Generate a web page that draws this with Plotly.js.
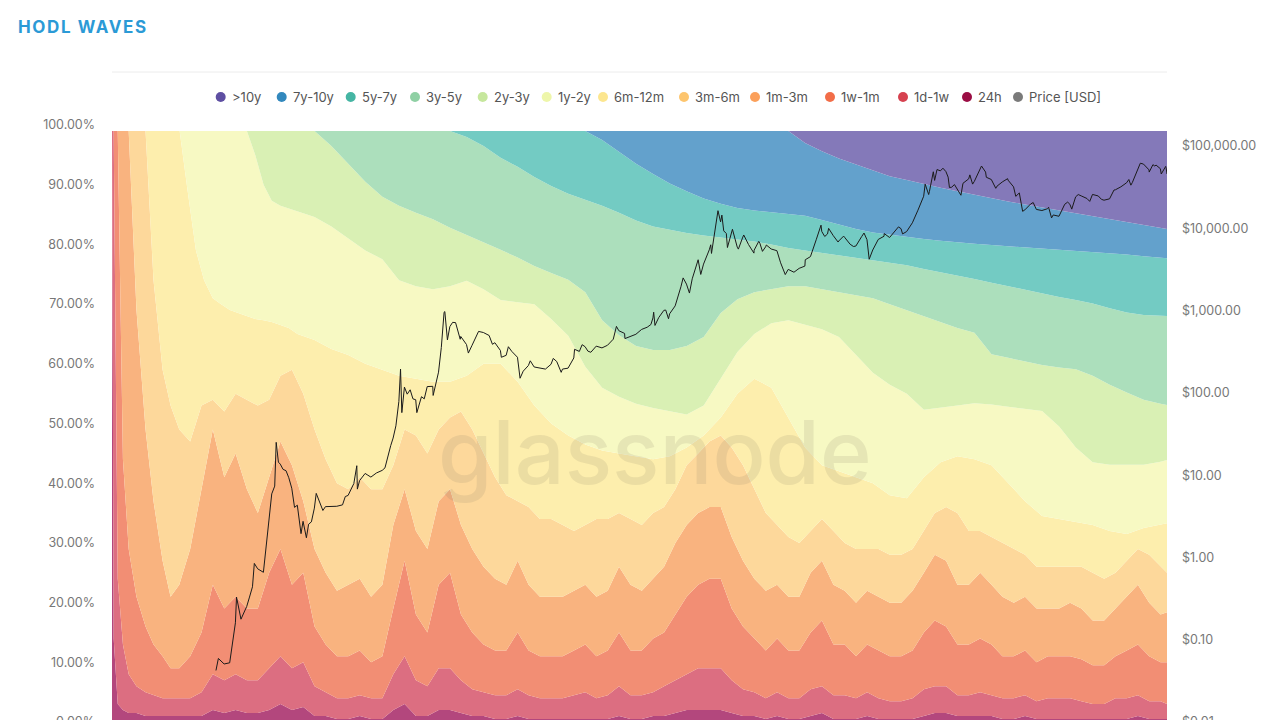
<!DOCTYPE html>
<html>
<head>
<meta charset="utf-8">
<script src="https://cdn.plot.ly/plotly-3.0.1.min.js"></script>
<style>
  html, body { margin: 0; padding: 0; overflow: hidden; background: #ffffff; }
  #chart { width: 1280px; height: 800px; }
  .gtitle { letter-spacing: 1.6px; }
</style>
</head>
<body>
<div id="chart"></div>
<script>
// ---- Sample dates for the young cohorts (denser: they move fast) ----
const datesYoung = [
 "2009-01-03","2009-01-12","2009-02-03","2009-03-03","2009-04-03","2009-05-15","2009-07-03","2009-08-15","2009-10-03","2009-11-15",
 "2010-01-01","2010-03-01","2010-05-01","2010-07-01","2010-09-01","2010-11-01",
 "2011-01-01","2011-03-01","2011-05-01","2011-07-01","2011-09-01","2011-11-01",
 "2012-01-01","2012-03-01","2012-05-01","2012-07-01","2012-09-01","2012-11-01",
 "2013-01-01","2013-03-01","2013-05-01","2013-07-01","2013-09-01","2013-11-01",
 "2014-01-01","2014-03-01","2014-05-01","2014-07-01","2014-09-01","2014-11-01",
 "2015-01-01","2015-03-01","2015-05-01","2015-07-01","2015-09-01","2015-11-01",
 "2016-01-01","2016-03-01","2016-05-01","2016-07-01","2016-09-01","2016-11-01",
 "2017-01-01","2017-03-01","2017-05-01","2017-07-01","2017-09-01","2017-11-01",
 "2018-01-01","2018-03-01","2018-05-01","2018-07-01","2018-09-01","2018-11-01",
 "2019-01-01","2019-03-01","2019-05-01","2019-07-01","2019-09-01","2019-11-01",
 "2020-01-01","2020-03-01","2020-05-01","2020-07-01","2020-09-01","2020-11-01",
 "2021-01-01","2021-03-01","2021-05-01","2021-07-01","2021-09-01","2021-11-01",
 "2022-01-01","2022-03-01","2022-05-01","2022-07-01","2022-09-01","2022-11-01",
 "2023-01-01","2023-03-01","2023-05-01","2023-07-01","2023-09-01","2023-11-01",
 "2024-01-01","2024-03-01","2024-05-01","2024-07-01","2024-08-05"
];
// Upper edge of each young band, cumulative % of supply
const edge_24h = [100,15,4,3,2.5,2.5,2,2,2,2,
 2,2,2,3,2.5,3, 2.5,2.5,3,4,3,3.5, 2,2,1.5,1.5,2,1.5, 1.5,3,4,2,2,3, 3,2.5,2,2,1.5,1.5,
 2,1.5,1.5,1.5,1.5,1.5, 1.5,1.5,1.5,2,1.5,1.5, 2,2,2.5,3,3,3, 3,2.5,2,2,1.5,2, 1.5,1.5,2,2.5,1.5,1.5,
 1.5,2,1.5,1.5,1.5,1.5, 2,2.5,2.5,2,2,2, 2,1.5,1.5,2,1.5,1.5, 1.5,1.5,1.5,1.5,1.5,1.5, 1.5,2,1.5,1.5,1.5];
const edge_1d_1w = [100,100,25,14,9,7,6,5.5,5,5,
 5,5,6,9,8,9, 8,8,10,12,10,11, 7,6,5,5,5.5,5, 5,9,12,8,7,10, 10,8,6.5,6,5.5,5.5,
 6.5,5.5,5,5,5,5.5, 6,5,5.5,7,5.5,5.5, 6,7,8,9,10,10, 10,8,6.5,6,5,6, 5,5,6.5,7,5.5,5.5,
 5,6,5,4.5,4.5,5, 6.5,7,7,5.5,5.5,6, 5.5,5,5,5.5,4.5,5, 5,5,4.5,4,4,5, 5,5.5,4.5,4.5,4];
const edge_1w_1m = [100,100,100,45,30,22,17,14,12,10,
 10,12,16,24,20,22, 20,20,26,30,24,26, 17,14,12,12,13,11, 12,20,28,19,16,24, 26,19,16,14,13,13,
 16,13,12,12,12,13, 14,12,13,16,13,13, 15,16,19,22,24,25, 25,20,17,15,13,15, 13,13,16,18,14,14,
 12,14,13,12,12,13, 16,18,17,14,14,15, 14,12,12,13,11,12, 12,12,11.5,10.5,10.5,12, 13,14,12,11,11];
const edge_1m_3m = [100,100,100,100,100,70,50,38,28,22,
 24,30,40,50,42,46, 40,36,42,48,44,38, 30,26,23,24,25,22, 24,34,40,33,30,38, 40,34,30,27,25,24,
 28,24,22,22,22,23, 24,22,23,27,24,23, 25,27,31,34,36,37, 37,32,28,25,23,24, 22,22,26,28,24,23,
 21,23,22,21,21,23, 26,29,28,24,24,26, 24,22,21,22,20,20, 20,21,20,18,18,20, 22,24,21,19,19.4];
const edge_3m_6m = [100,100,100,100,100,100,100,75,60,54,
 50,48,54,55,53,56, 55,54,55,59,60,56, 50,45,41,40,42,40, 40,44,50,49,46,50, 52,53,50,46,42,39,
 38,37,35,35,34,33, 34,35,35,36,35,34, 36,37,40,44,46,48, 49,47,44,40,36,34, 32,31,33,35,33,31,
 30,30,30,29,29,30, 33,36,37,36,33,33, 32,31,30,29,27,27, 27,27,27,26,25,26, 28,30,29,27,26];

// ---- Sample dates for the older cohorts ----
const dates = [
 "2009-01-03","2009-01-12","2009-02-03","2009-03-03","2009-04-03","2009-05-15","2009-07-03","2009-08-15",
 "2009-10-03","2009-11-15","2010-01-03","2010-02-15","2010-04-01","2010-05-15","2010-07-01","2010-08-15",
 "2010-10-01","2010-11-15","2011-01-01","2011-02-15","2011-04-01","2011-05-15","2011-07-01","2011-08-15",
 "2011-10-01","2011-11-15","2012-01-01","2012-04-01","2012-07-01","2012-10-01","2013-01-01","2013-04-01",
 "2013-07-01","2013-10-01","2014-01-01","2014-04-01","2014-07-01","2014-10-01","2015-01-01","2015-04-01",
 "2015-07-01","2015-10-01","2016-01-01","2016-04-01","2016-07-01","2016-10-01","2017-01-01","2017-04-01",
 "2017-07-01","2017-10-01","2018-01-01","2018-04-01","2018-07-01","2018-10-01","2019-01-01","2019-04-01",
 "2019-07-01","2019-10-01","2020-01-01","2020-04-01","2020-07-01","2020-10-01","2021-01-01","2021-04-01",
 "2021-07-01","2021-10-01","2022-01-01","2022-04-01","2022-07-01","2022-10-01","2023-01-01","2023-04-01",
 "2023-07-01","2023-10-01","2024-01-01","2024-04-01","2024-07-01","2024-08-05"
];
const edge_6m_12m = [100,100,100,100,100,100,100,100,100,100,100,90,80,75,72,71,70,69.5,69,68.5,68.3,68,67.5,67,66,65.5,65,63.5,62.5,61,60,59,
 58.5,58,58,59,61,61,58,54,51,49,47.5,46.5,46,45.5,45,45.5,47,49,52,56,58.5,57,52,47,44,43,42,41,39,38.5,42,44.5,45.5,45,44,41,38,35.5,35,34.5,34,33,32.5,33.5,34,34.3];
const edge_1y_2y = [100,100,100,100,100,100,100,100,100,100,100,100,100,100,100,100,100,100,100,96,91,88.3,87.5,87,86.5,86,85.6,84,82,80,78.5,75,
 74,73.5,74,74.9,73.5,71.7,71.3,71,68.5,65.7,60.5,57,55.5,54.3,53.6,53,52.5,54,58.5,63,66,67.8,68.3,67.6,66.8,65.5,62.5,59.5,57.5,56,53.3,53.6,54,54.4,54.2,53.8,53.4,53.1,50.5,47,44.5,44.1,44.1,44.1,44.6,44.9];
const edge_2y_3y = [100,100,100,100,100,100,100,100,100,100,100,100,100,100,100,100,100,100,100,100,100,100,100,100,100,100,100,97.5,94.5,91.5,89,87.5,
 86.3,85.2,83.8,82.6,81.4,80.1,78.8,77.4,76.2,75.1,73,68.3,65.8,64,63.3,63.3,64,65.5,69.5,71.8,73,73.5,74,74,73.5,73,72.5,72,71,70,69,68,67,66.2,62.6,62,61.4,60.8,60.4,60.1,59,57.5,56.2,55,54.3,54.1];
const edge_3y_5y = [100,100,100,100,100,100,100,100,100,100,100,100,100,100,100,100,100,100,100,100,100,100,100,100,100,100,100,100,100,100,100,100,
 100,100,100,99,97.5,95.5,94,92.3,90.8,89.5,88.5,87.5,86.3,85,84,83.4,82.9,82.5,82.2,81.9,81.5,81,80.4,80,79.6,79.2,78.8,78.4,78,77.5,76.9,76.3,75.7,75.2,74.6,74,73.4,72.8,72.2,71.7,71.1,70.3,69.6,69.2,69,69];
const edge_5y_7y = [100,100,100,100,100,100,100,100,100,100,100,100,100,100,100,100,100,100,100,100,100,100,100,100,100,100,100,100,100,100,100,100,
 100,100,100,100,100,100,100,100,100,100,100,98.5,96.5,94.5,92.8,91.2,89.9,88.7,87.8,87.1,86.7,86.4,86.2,85.8,85.1,84.3,83.6,83,82.6,82.2,81.9,81.6,81.3,81.1,80.9,80.7,80.5,80.3,80.2,80,79.8,79.6,79.3,79,78.8,78.7];
const edge_7y_10y = [100,100,100,100,100,100,100,100,100,100,100,100,100,100,100,100,100,100,100,100,100,100,100,100,100,100,100,100,100,100,100,100,
 100,100,100,100,100,100,100,100,100,100,100,100,100,100,100,100,100,100,100,100,100,100,100,98,96.6,95.4,94.4,93.3,92.4,91.8,91.1,90.5,89.9,89.3,88.8,88.2,87.7,87.2,86.7,86.2,85.7,85.2,84.7,84.2,83.8,83.6];
const edge_gt10y = dates.map(() => 100);

// ---- Price (USD) ----
const priceDates = [
 "2010-07-18","2010-07-31","2010-08-31","2010-09-30","2010-10-31","2010-11-06","2010-11-30","2010-12-31",
 "2011-01-15","2011-01-31","2011-02-10","2011-02-28","2011-03-31","2011-04-30","2011-05-15","2011-05-31","2011-06-08","2011-06-20",
 "2011-06-30","2011-07-15","2011-07-31","2011-08-15","2011-08-31","2011-09-15","2011-09-30","2011-10-20","2011-10-31","2011-11-18",
 "2011-11-30","2011-12-15","2011-12-31","2012-01-10","2012-01-31","2012-02-15","2012-02-29","2012-03-31","2012-04-30","2012-05-31",
 "2012-06-15","2012-06-30","2012-07-31","2012-08-16","2012-08-19","2012-08-31","2012-09-30","2012-10-15","2012-10-31","2012-11-30",
 "2012-12-31","2013-01-15","2013-01-31","2013-02-15","2013-02-28","2013-03-15","2013-03-31","2013-04-09","2013-04-16","2013-04-30",
 "2013-05-15","2013-05-31","2013-06-15","2013-06-30","2013-07-06","2013-07-31","2013-08-15","2013-08-31","2013-09-30","2013-10-02",
 "2013-10-31","2013-11-15","2013-11-30","2013-12-04","2013-12-18","2013-12-31","2014-01-15","2014-01-31","2014-02-25","2014-02-28",
 "2014-03-31","2014-04-10","2014-04-30","2014-05-31","2014-06-04","2014-06-30","2014-07-15","2014-07-31","2014-08-18","2014-08-31",
 "2014-09-30","2014-10-05","2014-10-31","2014-11-12","2014-11-30","2014-12-31","2015-01-14","2015-01-31","2015-02-28","2015-03-10",
 "2015-03-31","2015-04-30","2015-05-31","2015-06-30","2015-07-12","2015-07-31","2015-08-24","2015-08-31","2015-09-30","2015-10-31",
 "2015-11-04","2015-11-30","2015-12-15","2015-12-31","2016-01-15","2016-01-31","2016-02-29","2016-03-31","2016-04-30","2016-05-31",
 "2016-06-17","2016-06-30","2016-07-31","2016-08-02","2016-08-31","2016-09-30","2016-10-31","2016-11-30","2016-12-20","2016-12-31",
 "2017-01-04","2017-01-11","2017-01-31","2017-02-28","2017-03-10","2017-03-25","2017-03-31","2017-04-30","2017-05-31","2017-06-12",
 "2017-06-30","2017-07-16","2017-07-31","2017-08-31","2017-09-01","2017-09-15","2017-09-30","2017-10-31","2017-11-08","2017-11-12",
 "2017-11-30","2017-12-17","2017-12-31","2018-01-07","2018-01-17","2018-01-31","2018-02-06","2018-02-28","2018-03-05","2018-03-31",
 "2018-04-06","2018-04-30","2018-05-05","2018-05-31","2018-06-29","2018-06-30","2018-07-25","2018-07-31","2018-08-14","2018-08-31",
 "2018-09-04","2018-09-30","2018-10-31","2018-11-20","2018-11-30","2018-12-15","2018-12-31","2019-01-31","2019-02-28","2019-03-31",
 "2019-04-02","2019-04-30","2019-05-31","2019-06-26","2019-06-30","2019-07-16","2019-07-31","2019-08-06","2019-08-31","2019-09-26",
 "2019-09-30","2019-10-26","2019-10-31","2019-11-30","2019-12-18","2019-12-31","2020-01-31","2020-02-13","2020-02-29","2020-03-12",
 "2020-03-31","2020-04-30","2020-05-31","2020-06-01","2020-06-30","2020-07-31","2020-08-17","2020-08-31","2020-09-08","2020-09-30",
 "2020-10-31","2020-11-30","2020-12-31","2021-01-08","2021-01-27","2021-01-31","2021-02-21","2021-02-28","2021-03-13","2021-03-31",
 "2021-04-14","2021-04-30","2021-05-12","2021-05-19","2021-05-31","2021-06-15","2021-06-30","2021-07-20","2021-07-31","2021-08-31",
 "2021-09-06","2021-09-21","2021-09-30","2021-10-31","2021-11-08","2021-11-30","2021-12-04","2021-12-31","2022-01-24","2022-01-31",
 "2022-02-28","2022-03-29","2022-03-31","2022-04-30","2022-05-12","2022-05-31","2022-06-18","2022-06-30","2022-07-31","2022-08-14",
 "2022-08-31","2022-09-30","2022-10-31","2022-11-05","2022-11-21","2022-11-30","2022-12-31","2023-01-31","2023-02-16","2023-02-28",
 "2023-03-10","2023-03-31","2023-04-14","2023-04-30","2023-05-31","2023-06-15","2023-06-30","2023-07-31","2023-08-17","2023-08-31",
 "2023-09-30","2023-10-24","2023-10-31","2023-11-30","2023-12-31","2024-01-12","2024-01-23","2024-01-31","2024-02-29","2024-03-14",
 "2024-03-31","2024-04-19","2024-04-30","2024-05-01","2024-05-21","2024-05-31","2024-06-07","2024-06-30","2024-07-05","2024-07-29",
 "2024-07-31","2024-08-05"
];
const priceUSD = [
 0.05,0.07,0.06,0.062,0.19,0.39,0.21,0.30,
 0.39,0.52,1.0,0.86,0.78,3.5,7.0,8.7,29.6,17,
 16.1,13.9,13.4,11,8.2,4.8,5.1,2.3,3.25,2.05,
 3.0,3.2,4.7,7.1,5.5,4.4,4.9,4.9,4.95,5.15,
 6.5,6.7,9.35,15.4,8,10.15,12.4,11.8,11.2,12.57,
 13.51,14.5,20.41,27,33.38,47,93.03,230,68,139,
 114,128.8,100,97.5,68,106.2,100,141,141.9,110,
 211,420,1129,1150,520,754,850,844,530,573,
 457,360,448,628,660,640,620,589,460,481,
 387,320,338,430,378,320,178,217,254,290,
 244,236,230,263,310,284,210,230,236,314,
 400,377,455,430,380,368,437,416,448,531,
 760,673,624,540,575,609,698,742,800,963,
 1130,780,970,1190,1200,940,1080,1348,2300,2950,
 2480,1930,2875,4703,4900,3250,4338,6468,7450,5850,
 10233,19345,14156,17100,11000,10221,6900,10397,11500,6973,
 6600,9240,9800,7494,5900,6404,8200,7780,6200,7037,
 7400,6625,6317,4500,4017,3236,3742,3457,3854,4105,
 4900,5350,8574,12900,10817,9400,10085,11800,9630,8050,
 8293,9500,9199,7569,7100,7193,9350,10350,8599,4970,
 6438,8658,9461,10200,9137,11323,12300,11680,10100,10784,
 13781,19625,29001,40700,30400,33114,57500,45137,61200,58918,
 63500,57750,49500,37000,37332,40200,35040,29800,41626,47166,
 52700,40700,43790,61318,67500,57005,49300,46306,36200,38483,
 43193,47400,45538,37714,28900,31792,19000,19784,23336,24300,
 20050,19431,20495,21300,15800,17168,16547,23139,24600,23147,
 20200,28478,30400,29268,27219,25100,30477,29230,26600,25940,
 26962,34500,34667,37712,42265,46300,39500,42582,61198,73000,
 71333,63900,60636,57000,70100,67491,69300,62678,54000,66800,
 64619,54000
];

// ---- Bands (bottom to top) ----
const bandNames = ["24h","1d-1w","1w-1m","1m-3m","3m-6m","6m-12m","1y-2y","2y-3y","3y-5y","5y-7y","7y-10y",">10y"];
const bandEdges = [edge_24h,edge_1d_1w,edge_1w_1m,edge_1m_3m,edge_3m_6m,edge_6m_12m,edge_1y_2y,edge_2y_3y,edge_3y_5y,edge_5y_7y,edge_7y_10y,edge_gt10y];
const bandDates = [datesYoung,datesYoung,datesYoung,datesYoung,datesYoung,dates,dates,dates,dates,dates,dates,dates];
const bandFill = ["#b3477d","#dc6e81","#f28e74","#f9b37f","#fdd89b","#fdeead","#f7f9c3","#d9f0b4","#acdfbc","#73cbc3","#63a1cc","#8479b9"];

// ---- Axis tick labels ----
const pctTickVals = [0,10,20,30,40,50,60,70,80,90,100];
const pctTickText = ["0.00%","10.00%","20.00%","30.00%","40.00%","50.00%","60.00%","70.00%","80.00%","90.00%","100.00%"];
const usdTickVals = [0.01,0.1,1,10,100,1000,10000,100000];
const usdTickText = ["$0.01","$0.10","$1.00","$10.00","$100.00","$1,000.00","$10,000.00","$100,000.00"];

// ---- Legend (order and marker colours) ----
const legendNames  = [">10y","7y-10y","5y-7y","3y-5y","2y-3y","1y-2y","6m-12m","3m-6m","1m-3m","1w-1m","1d-1w","24h","Price [USD]"];
const legendColors = ["#5e4fa2","#3288bd","#45b5a3","#8fd0a4","#c6e79d","#eef6aa","#fce68f","#fdc56e","#fba05b","#f26d48","#d6414f","#9b0d44","#7a7a7a"];
const legendDotPx  = [220.7,281.7,350.7,415,482.7,546.7,603,684,755,830,903,967,1018];

const traces = bandEdges.map((edge, i) => ({
  type: "scatter", mode: "lines", x: bandDates[i], y: edge, name: bandNames[i],
  line: { width: 0 }, fill: i === 0 ? "tozeroy" : "tonexty", fillcolor: bandFill[i],
  showlegend: false, hoverinfo: "skip", yaxis: "y"
}));
traces.push({
  type: "scatter", mode: "lines", x: priceDates, y: priceUSD, name: "Price [USD]",
  line: { color: "#1b1b1b", width: 1 }, showlegend: false, yaxis: "y2", hoverinfo: "skip"
});

const W = 1280, H = 800, ML = 112, MR = 113, MT = 131, MB = 72;
const PW = W - ML - MR, PH = H - MT - MB;
const px2paperX = p => (p - ML) / PW;
const py2paperY = p => (H - MB - p) / PH;

const shapes = [{
  type: "line", xref: "paper", yref: "paper", x0: 0, x1: 1,
  y0: py2paperY(72), y1: py2paperY(72), line: { color: "#ececec", width: 1 }
}];
const annotations = [];
legendNames.forEach((n, i) => {
  const cx = px2paperX(legendDotPx[i]), cy = py2paperY(97);
  shapes.push({
    type: "circle", xref: "paper", yref: "paper", xsizemode: "pixel", ysizemode: "pixel",
    xanchor: cx, yanchor: cy, x0: -5, x1: 5, y0: -5, y1: 5,
    fillcolor: legendColors[i], line: { width: 0 }
  });
  annotations.push({
    xref: "paper", yref: "paper", x: px2paperX(legendDotPx[i] + 9), y: cy,
    xanchor: "left", yanchor: "middle", showarrow: false, text: n,
    font: { family: "Inter, sans-serif", size: 13, color: "#555555" }
  });
});
annotations.push({
  xref: "paper", yref: "paper", x: px2paperX(655), y: py2paperY(452),
  xanchor: "center", yanchor: "middle", showarrow: false, text: "glassnode",
  font: { family: "Inter, sans-serif", size: 88, color: "rgba(130,120,100,0.14)", weight: 500 }
});

const layout = {
  width: W, height: H,
  margin: { l: ML, r: MR, t: MT, b: MB, pad: 0 },
  paper_bgcolor: "#ffffff", plot_bgcolor: "#ffffff",
  font: { family: "Inter, sans-serif", color: "#777777" },
  title: {
    text: "<b>HODL WAVES</b>", xref: "container", yref: "container",
    x: 18 / W, xanchor: "left", y: 1 - 27 / H, yanchor: "middle",
    font: { family: "Inter, sans-serif", size: 17, color: "#2b9ad6" }
  },
  showlegend: false,
  xaxis: { type: "date", range: [dates[0], dates[dates.length - 1]], visible: false, fixedrange: true },
  yaxis: {
    range: [0, 100], tickmode: "array", tickvals: pctTickVals, ticktext: pctTickText,
    showgrid: false, zeroline: false, showline: false, ticks: "",
    ticklabelstandoff: 16, ticklabelshift: -6,
    tickfont: { family: "Inter, sans-serif", size: 12.5, color: "#777777" }
  },
  yaxis2: {
    type: "log", overlaying: "y", side: "right", range: [-2, 5.255],
    tickmode: "array", tickvals: usdTickVals, ticktext: usdTickText,
    showgrid: false, zeroline: false, showline: false, ticks: "",
    ticklabelstandoff: 14, ticklabelshift: -6,
    tickfont: { family: "Inter, sans-serif", size: 12.5, color: "#777777" }
  },
  shapes: shapes, annotations: annotations, hovermode: false
};

Plotly.newPlot("chart", traces, layout, { displayModeBar: false, staticPlot: true });
</script>
</body>
</html>
